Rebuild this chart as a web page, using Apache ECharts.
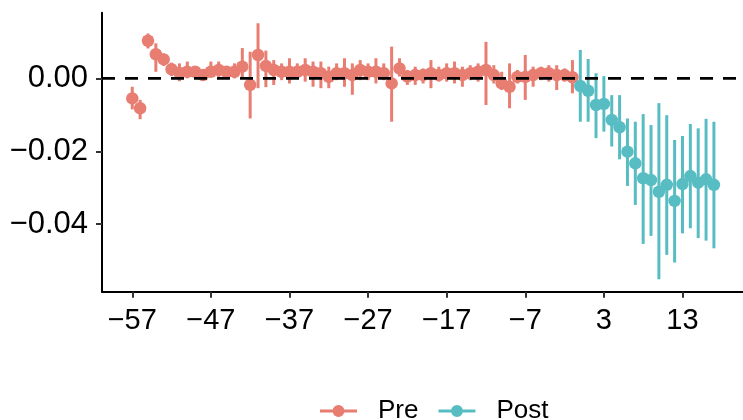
<!DOCTYPE html>
<html><head><meta charset="utf-8">
<script src="https://cdn.jsdelivr.net/npm/echarts@6/dist/echarts.min.js"></script>
<style>html,body{margin:0;padding:0;background:#fff}#c{width:743px;height:420px}</style>
</head><body><div id="c"></div>
<script>
// Pre period: relative time -57 .. -1
const preX = [-57,-56,-55,-54,-53,-52,-51,-50,-49,-48,-47,-46,-45,-44,-43,-42,-41,-40,-39,-38,-37,-36,-35,-34,-33,-32,-31,-30,-29,-28,-27,-26,-25,-24,-23,-22,-21,-20,-19,-18,-17,-16,-15,-14,-13,-12,-11,-10,-9,-8,-7,-6,-5,-4,-3,-2,-1];
const preEst = [-0.0055,-0.0082,0.0103,0.0066,0.0052,0.0025,0.0015,0.0018,0.0018,0.0009,0.0018,0.0023,0.0018,0.0018,0.0032,-0.0018,0.0064,0.0034,0.0023,0.0018,0.0018,0.0018,0.0023,0.0018,0.0014,0.0004,0.0014,0.0014,0.0009,0.0023,0.0018,0.0018,0.0014,-0.0014,0.0027,0.0005,0.0009,0.0009,0.0014,0.0009,0.0014,0.0014,0.0009,0.0014,0.0018,0.0023,0.0009,-0.0014,-0.0023,0.0004,0.0004,0.0009,0.0014,0.0014,0.0009,0.0009,0.0003];
const preLo = [-0.0085,-0.0112,0.0082,0.0018,0.0034,0.0006,-0.0008,0.0000,0.0005,-0.0005,0.0005,0.0004,0.0004,0.0000,-0.0001,-0.0110,-0.0027,-0.0024,-0.0018,-0.0005,-0.0014,0.0000,-0.0009,-0.0023,-0.0027,-0.0027,-0.0005,-0.0023,-0.0045,-0.0005,-0.0005,-0.0014,-0.0005,-0.0119,0.0005,-0.0018,-0.0018,-0.0014,-0.0027,-0.0009,-0.0009,-0.0014,-0.0023,-0.0005,-0.0009,-0.0073,-0.0014,-0.0032,-0.0082,-0.0014,-0.0059,-0.0023,-0.0005,-0.0009,-0.0032,-0.0009,-0.0041];
const preHi = [-0.0023,-0.0059,0.0123,0.0096,0.0068,0.0043,0.0041,0.0046,0.0030,0.0023,0.0046,0.0046,0.0032,0.0041,0.0083,0.0073,0.0151,0.0076,0.0050,0.0041,0.0055,0.0041,0.0055,0.0046,0.0046,0.0032,0.0041,0.0055,0.0041,0.0050,0.0041,0.0055,0.0041,0.0087,0.0055,0.0023,0.0032,0.0027,0.0050,0.0032,0.0041,0.0046,0.0032,0.0036,0.0041,0.0100,0.0036,0.0018,0.0041,0.0023,0.0064,0.0032,0.0032,0.0036,0.0036,0.0027,0.0050];
// Post period: relative time 0 .. 17
const postX = [0,1,2,3,4,5,6,7,8,9,10,11,12,13,14,15,16,17];
const postEst = [-0.0021,-0.0034,-0.0073,-0.0070,-0.0114,-0.0134,-0.0201,-0.0233,-0.0274,-0.0279,-0.0311,-0.0292,-0.0336,-0.0290,-0.0268,-0.0286,-0.0277,-0.0292];
const postLo = [-0.0119,-0.0119,-0.0164,-0.0146,-0.0187,-0.0222,-0.0295,-0.0347,-0.0454,-0.0432,-0.0551,-0.0484,-0.0505,-0.0425,-0.0411,-0.0438,-0.0445,-0.0466];
const postHi = [0.0078,0.0053,0.0014,0.0006,-0.0046,-0.0046,-0.0110,-0.0119,-0.0098,-0.0128,-0.0068,-0.0101,-0.0169,-0.0158,-0.0125,-0.0137,-0.0111,-0.0119];
const xTicks = [-57,-47,-37,-27,-17,-7,3,13];
const yTicks = [-0.04,-0.02,0];
const legendNames = ['Pre','Post'];

const PRE_C = '#E87D71', POST_C = '#58BDC3';
const XMIN = -60.85, XMAX = 20.7, YMIN = -0.0585, YMAX = 0.018;
const minus = s => s.replace('-', '\u2212');

function errData(xs, lo, hi){ return xs.map((x,i)=>[x, lo[i], hi[i]]); }
function ptData(xs, ys){ return xs.map((x,i)=>[x, ys[i]]); }
function errRender(color){
  return function(params, api){
    const p1 = api.coord([api.value(0), api.value(1)]);
    const p2 = api.coord([api.value(0), api.value(2)]);
    return {type:'line', shape:{x1:p1[0],y1:p1[1],x2:p2[0],y2:p2[1]}, style:{stroke:color, lineWidth:3}};
  };
}
const icon = 'path://M0,4.5L37,4.5L37,7.5L0,7.5Z M12.5,6A6,6 0 1,1 24.5,6A6,6 0 1,1 12.5,6Z';

const chart = echarts.init(document.getElementById('c'), null, {renderer:'canvas'});
chart.setOption({
  animation:false,
  backgroundColor:'#fff',
  textStyle:{fontFamily:'Liberation Sans, Arial, sans-serif'},
  grid:{left:102, right:0, top:12.7, bottom:128.3},
  legend:{
    data:[{name:legendNames[0], itemStyle:{color:PRE_C}},{name:legendNames[1], itemStyle:{color:POST_C}}],
    left:315, top:393, icon:icon, itemWidth:37, itemHeight:12, itemGap:20,
    textStyle:{fontSize:26, color:'#000', padding:[0,0,0,16]}
  },
  xAxis:{type:'value', min:XMIN, max:XMAX,
    axisLine:{onZero:false, lineStyle:{color:'#000', width:2}},
    axisTick:{customValues:xTicks, length:6, lineStyle:{color:'#333', width:2}},
    axisLabel:{customValues:xTicks, formatter:v=>minus(String(v)), fontSize:29, color:'#000', margin:15},
    splitLine:{show:false}},
  yAxis:{type:'value', min:YMIN, max:YMAX,
    axisLine:{show:true, onZero:false, lineStyle:{color:'#000', width:2}},
    axisTick:{show:true, customValues:yTicks, length:6, lineStyle:{color:'#333', width:2}},
    axisLabel:{customValues:yTicks, formatter:v=>minus(v.toFixed(2)), fontSize:31, color:'#000', margin:14},
    splitLine:{show:false}},
  series:[
    {name:'Pre', type:'custom', data:errData(preX,preLo,preHi), renderItem:errRender(PRE_C), z:2, encode:{x:0,y:[1,2]}},
    {name:'Pre', type:'scatter', data:ptData(preX,preEst), symbolSize:12.5, itemStyle:{color:PRE_C, opacity:1}, z:3},
    {name:'Post', type:'custom', data:errData(postX,postLo,postHi), renderItem:errRender(POST_C), z:2, encode:{x:0,y:[1,2]}},
    {name:'Post', type:'scatter', data:ptData(postX,postEst), symbolSize:12.5, itemStyle:{color:POST_C, opacity:1}, z:3},
    {name:'zero', type:'line', data:[[XMIN,0],[XMAX,0]], symbol:'none', silent:true, z:10,
      lineStyle:{color:'#000', width:2.8, type:[13,10]}}
  ]
});
</script></body></html>
